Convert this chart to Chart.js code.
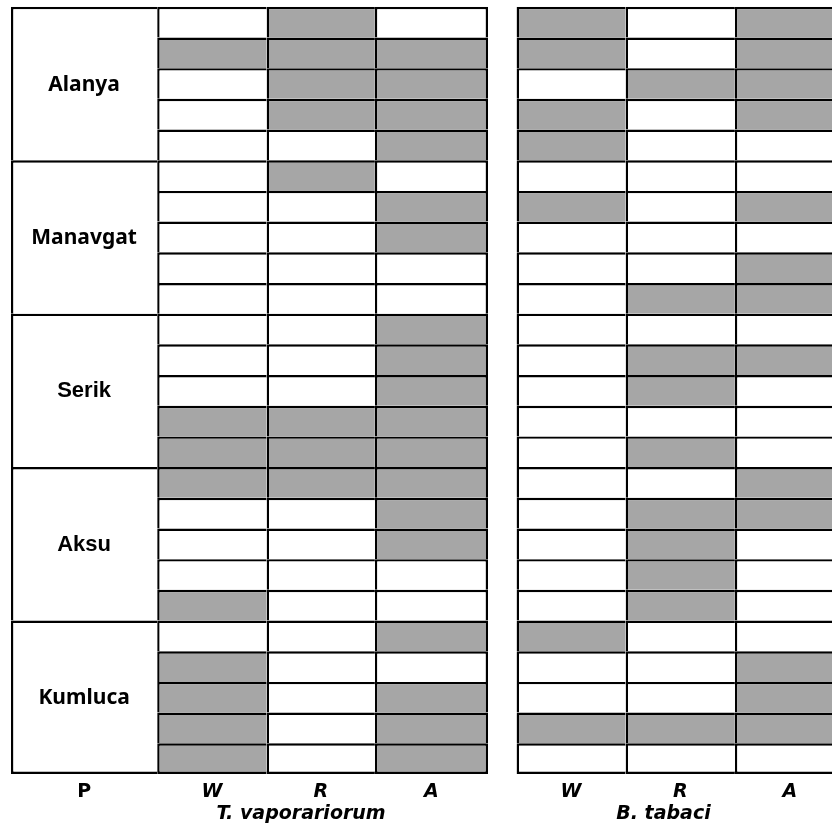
<!DOCTYPE html>
<html>
<head>
<meta charset="utf-8">
<script src="https://cdn.jsdelivr.net/npm/chart.js@4/dist/chart.umd.min.js"></script>
<style>
  html, body { margin: 0; padding: 0; background: #ffffff; }
  #c { display: block; }
</style>
</head>
<body>
<canvas id="c" width="832" height="831"></canvas>
<script>
// ---------------- DATA ----------------
const LOCATIONS = ['Alanya', 'Manavgat', 'Serik', 'Aksu', 'Kumluca'];
const REPLICATES = 5;
const COLUMN_LABELS = ['P', 'W', 'R', 'A', 'W', 'R', 'A'];
const SPECIES = ['T. vaporariorum', 'B. tabaci'];

// 1 = filled (grey) cell, 0 = empty; 25 rows: 5 per location, top to bottom
const TVAP_W = [0,1,0,0,0,  0,0,0,0,0,  0,0,0,1,1,  1,0,0,0,1,  0,1,1,1,1];
const TVAP_R = [1,1,1,1,0,  1,0,0,0,0,  0,0,0,1,1,  1,0,0,0,0,  0,0,0,0,0];
const TVAP_A = [0,1,1,1,1,  0,1,1,0,0,  1,1,1,1,1,  1,1,1,0,0,  1,0,1,1,1];
const BTAB_W = [1,1,0,1,1,  0,1,0,0,0,  0,0,0,0,0,  0,0,0,0,0,  1,0,0,1,0];
const BTAB_R = [0,0,1,0,0,  0,0,0,0,1,  0,1,1,0,1,  0,1,1,1,1,  0,0,0,1,0];
const BTAB_A = [1,1,1,1,0,  0,1,0,1,1,  0,1,0,0,0,  1,1,0,0,0,  0,1,1,1,0];

// ---------------- LAYOUT / STYLE ----------------
const EDGES = [[0,146.2],[146.2,255.6],[255.6,363.9],[363.9,477],[505.6,614.6],[614.6,723.9],[723.9,834]];
const SPECIES_POS = [290, 652.5];
const X_MAX = 821;
const LINE = 2.4;
const GREY = '#a6a6a6';
const WHITE = '#ffffff';
const TICK_FAMILY = '"DejaVu Sans", sans-serif';
const LOC_FONTS = [
  'bold 21px "Noto Sans"', 'bold 21px "Noto Sans"',
  'bold 22px "Liberation Sans"', 'bold 22px "Liberation Sans"',
  'bold 21px "Noto Sans"'
];

const ROWS = [];
LOCATIONS.forEach(l => { for (let i = 1; i <= REPLICATES; i++) ROWS.push(l + ' ' + i); });
const N = ROWS.length;
const centers = EDGES.map(e => (e[0] + e[1]) / 2);
const cellCols = [TVAP_W, TVAP_R, TVAP_A, BTAB_W, BTAB_R, BTAB_A];

const datasets = [];
// P column: one merged cell per location (on its own category axis)
datasets.push({
  label: 'P',
  yAxisID: 'yLoc',
  data: LOCATIONS.map(() => EDGES[0]),
  backgroundColor: WHITE,
  borderColor: '#000',
  borderWidth: (ctx) => ({ top: LINE, left: LINE, right: 0, bottom: ctx.dataIndex === LOCATIONS.length - 1 ? LINE : 0 })
});
cellCols.forEach((vals, k) => {
  datasets.push({
    label: COLUMN_LABELS[k + 1],
    yAxisID: 'y',
    data: vals.map(() => EDGES[k + 1]),
    backgroundColor: vals.map(v => v ? GREY : WHITE),
    borderColor: '#000',
    borderWidth: (ctx) => ({
      top: LINE, left: LINE,
      right: (k === 2 || k === 5) ? LINE : 0,
      bottom: ctx.dataIndex === N - 1 ? LINE : 0
    })
  });
});
datasets.forEach(d => {
  d.grouped = false;
  d.barPercentage = 1;
  d.categoryPercentage = 1;
  d.borderSkipped = false;
  d.inflateAmount = 0;
});

const locationLabels = {
  id: 'locationLabels',
  afterDatasetsDraw(chart) {
    const { ctx, scales: { x, yLoc } } = chart;
    const cx = x.getPixelForValue(centers[0]);
    LOCATIONS.forEach((loc, g) => {
      ctx.save();
      ctx.font = LOC_FONTS[g];
      ctx.fillStyle = '#000';
      ctx.textAlign = 'center';
      ctx.textBaseline = 'middle';
      ctx.fillText(loc, cx, yLoc.getPixelForValue(g) + 1);
      ctx.restore();
    });
  }
};

new Chart(document.getElementById('c'), {
  type: 'bar',
  data: { labels: ROWS, datasets },
  plugins: [locationLabels],
  options: {
    indexAxis: 'y',
    responsive: false,
    animation: false,
    devicePixelRatio: 1,
    layout: { padding: { left: 11, right: 0, top: 6.8, bottom: 0 } },
    plugins: { legend: { display: false }, tooltip: { enabled: false } },
    scales: {
      y: { type: 'category', display: false, offset: true },
      yLoc: { type: 'category', labels: LOCATIONS, display: false, offset: true },
      x: {
        type: 'linear',
        position: 'bottom',
        weight: 0,
        min: 0, max: X_MAX,
        stacked: false,
        grid: { display: false, drawTicks: false },
        border: { display: false },
        afterBuildTicks: (s) => { s.ticks = centers.map(v => ({ value: v })); },
        afterFit: (s) => { s.height = 28.5; },
        ticks: {
          autoSkip: false, maxRotation: 0, minRotation: 0, padding: 7,
          color: '#000',
          callback: (v, i) => COLUMN_LABELS[i],
          font: (ctx) => ({ family: TICK_FAMILY, size: 19, weight: 'bold', style: ctx.index === 0 ? 'normal' : 'italic' })
        }
      },
      x2: {
        type: 'linear',
        position: 'bottom',
        weight: 1,
        min: 0, max: X_MAX,
        stacked: false,
        grid: { display: false, drawTicks: false },
        border: { display: false },
        afterBuildTicks: (s) => { s.ticks = SPECIES_POS.map(v => ({ value: v })); },
        afterFit: (s) => { s.height = 28.5; },
        ticks: {
          autoSkip: false, maxRotation: 0, minRotation: 0, padding: 0,
          color: '#000',
          callback: (v, i) => SPECIES[i],
          font: { family: TICK_FAMILY, size: 19, weight: 'bold', style: 'italic' }
        }
      }
    }
  }
});
</script>
</body>
</html>
